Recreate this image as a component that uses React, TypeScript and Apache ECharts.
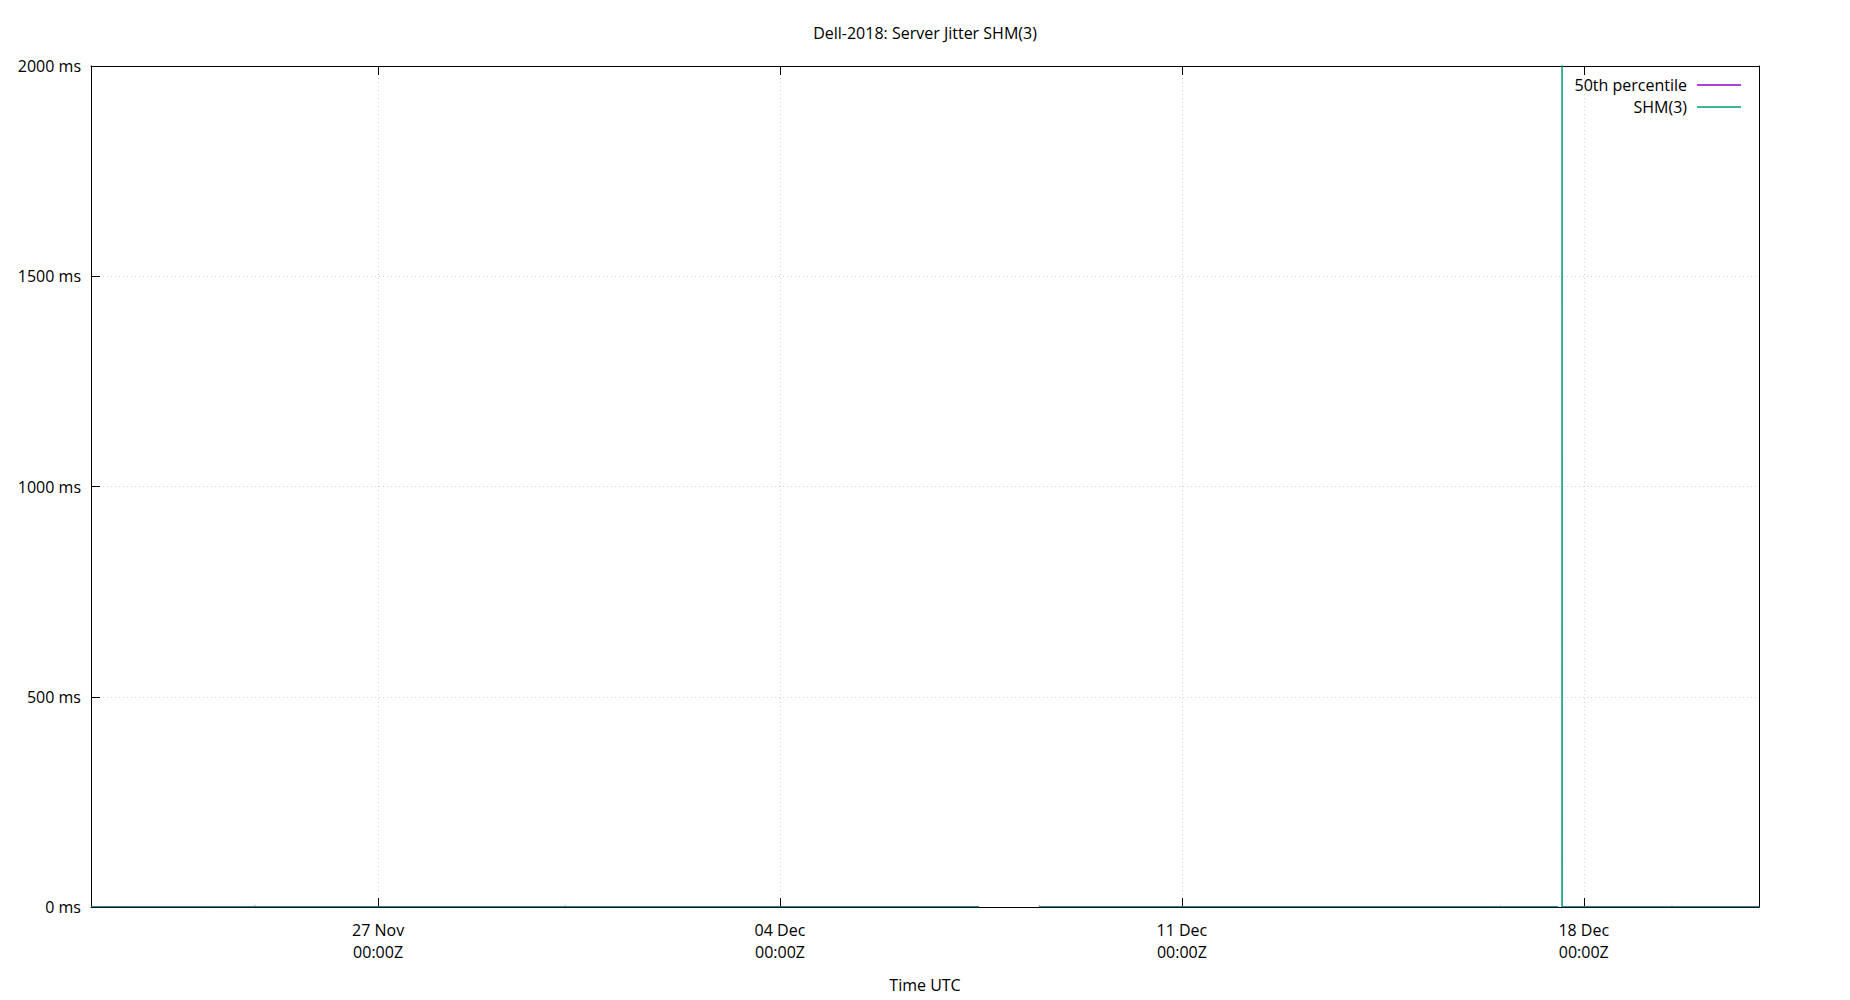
import React, { useEffect, useRef } from 'react';
import * as echarts from 'echarts';

const TITLE = 'Dell-2018: Server Jitter SHM(3)';
const X_NAME = 'Time UTC';
const X_MIN = '2023-11-22T00:00:00Z';
const X_MAX = '2023-12-21T01:15:00Z';
const X_TICKS = [
  '2023-11-27T00:00:00Z',
  '2023-12-04T00:00:00Z',
  '2023-12-11T00:00:00Z',
  '2023-12-18T00:00:00Z',
];
const Y_MIN = 0;
const Y_MAX = 2000;
const Y_STEP = 500;

const SERIES_NAMES = ['50th percentile', 'SHM(3)'];
const SERIES_COLORS = ['#9400d3', '#009e73'];

// sample times (UTC); null marks a gap in the log
const shmTimes = [
  '2023-11-22T00:00:00Z',
  '2023-11-24T20:00:00Z',
  '2023-11-24T20:30:00Z',
  '2023-11-24T21:00:00Z',
  '2023-11-30T05:30:00Z',
  '2023-11-30T06:15:00Z',
  '2023-11-30T07:00:00Z',
  '2023-12-07T11:15:00Z',
  '2023-12-07T23:00:00Z',
  '2023-12-08T12:15:00Z',
  '2023-12-08T13:00:00Z',
  '2023-12-16T12:30:00Z',
  '2023-12-16T13:10:00Z',
  '2023-12-16T14:00:00Z',
  '2023-12-17T13:15:00Z',
  '2023-12-17T14:00:00Z',
  '2023-12-17T14:50:00Z',
  '2023-12-17T14:56:00Z',
  '2023-12-17T15:02:00Z',
  '2023-12-19T12:00:00Z',
  '2023-12-19T12:55:00Z',
  '2023-12-19T13:40:00Z',
  '2023-12-21T01:15:00Z',
];
const shmValues = [
  0.5, 0.6, 3, 0.5, 0.5, 2.5, 0.5, 0.5, null, 3, 0.5, 0.5, 2, 0.5, 0.5, null,
  0.5, 2900, 0.5, 0.5, 2, 0.5, 0.5,
];
const p50Values = [
  0.5, 0.5, 0.5, 0.5, 0.5, 0.5, 0.5, 0.5, null, 0.5, 0.5, 0.5, 0.5, 0.5, 0.5, null,
  0.5, 0.5, 0.5, 0.5, 0.5, 0.5, 0.5,
];

const MONTHS = ['Jan', 'Feb', 'Mar', 'Apr', 'May', 'Jun', 'Jul', 'Aug', 'Sep', 'Oct', 'Nov', 'Dec'];
const FONT = '"Open Sans", "Noto Sans", sans-serif';

const ms = (s: string) => new Date(s).getTime();
const pad = (n: number) => String(n).padStart(2, '0');

function fmtDate(v: number) {
  const d = new Date(v);
  return `${pad(d.getUTCDate())} ${MONTHS[d.getUTCMonth()]}\n${pad(d.getUTCHours())}:${pad(d.getUTCMinutes())}Z`;
}

export default function App() {
  const ref = useRef<HTMLDivElement>(null);

  useEffect(() => {
    if (!ref.current) return;
    const chart = echarts.init(ref.current, undefined, { renderer: 'svg' });
    const xTicks = X_TICKS.map(ms);
    const gridLine = { show: true, lineStyle: { color: '#d4d4d4', width: 1, type: [1, 3] as number[] } };
    const frame = { show: true, onZero: false, lineStyle: { color: '#000', width: 1 } };
    const tick = { show: true, inside: true, length: 9, lineStyle: { color: '#000' } };
    const textBase = { color: '#000', fontFamily: FONT, fontSize: 16 };

    const xCommon = {
      type: 'value' as const,
      min: ms(X_MIN),
      max: ms(X_MAX),
      axisLine: frame,
    };
    const yCommon = {
      type: 'value' as const,
      min: Y_MIN,
      max: Y_MAX,
      interval: Y_STEP,
      axisLine: frame,
    };

    const option: echarts.EChartsOption = {
      animation: false,
      backgroundColor: '#fff',
      title: {
        text: TITLE,
        left: 'center',
        top: 20,
        textStyle: { ...textBase, fontWeight: 'normal' },
      },
      legend: {
        orient: 'vertical',
        right: 104,
        top: 71,
        align: 'right',
        icon: 'rect',
        itemWidth: 44,
        itemHeight: 1.5,
        itemGap: 4,
        textStyle: { ...textBase, lineHeight: 18, padding: [0, 5, 0, 0] },
        data: SERIES_NAMES,
      },
      grid: { left: 91, right: 91, top: 66, bottom: 93, containLabel: false },
      xAxis: [
        {
          ...xCommon,
          position: 'bottom',
          name: X_NAME,
          nameLocation: 'middle',
          nameGap: 70,
          nameTextStyle: textBase,
          axisTick: { ...tick, customValues: xTicks },
          axisLabel: {
            ...textBase,
            lineHeight: 22,
            margin: 12,
            customValues: xTicks,
            formatter: (v: number) => fmtDate(v),
          },
          splitLine: { ...gridLine, customValues: xTicks } as any,
        },
        {
          ...xCommon,
          position: 'top',
          axisTick: { ...tick, customValues: xTicks },
          axisLabel: { show: false },
          splitLine: { show: false },
        },
      ],
      yAxis: [
        {
          ...yCommon,
          position: 'left',
          axisTick: tick,
          axisLabel: { ...textBase, margin: 10, formatter: (v: number) => `${v} ms` },
          splitLine: gridLine,
        },
        {
          ...yCommon,
          position: 'right',
          axisTick: { show: false },
          axisLabel: { show: false },
          splitLine: { show: false },
        },
      ],
      series: [
        {
          name: SERIES_NAMES[0],
          type: 'line',
          symbol: 'none',
          connectNulls: false,
          clip: true,
          color: SERIES_COLORS[0],
          lineStyle: { width: 1, color: SERIES_COLORS[0] },
          data: shmTimes.map((t, i) => [ms(t), p50Values[i]]),
        },
        {
          name: SERIES_NAMES[1],
          type: 'line',
          symbol: 'none',
          connectNulls: false,
          clip: true,
          color: SERIES_COLORS[1],
          lineStyle: { width: 1, color: SERIES_COLORS[1] },
          data: shmTimes.map((t, i) => [ms(t), shmValues[i]]),
        },
      ],
    };

    chart.setOption(option);
    return () => chart.dispose();
  }, []);

  return (
    <div
      ref={ref}
      style={{ position: 'absolute', left: 0, top: 0, width: 1850, height: 1000 }}
    />
  );
}
